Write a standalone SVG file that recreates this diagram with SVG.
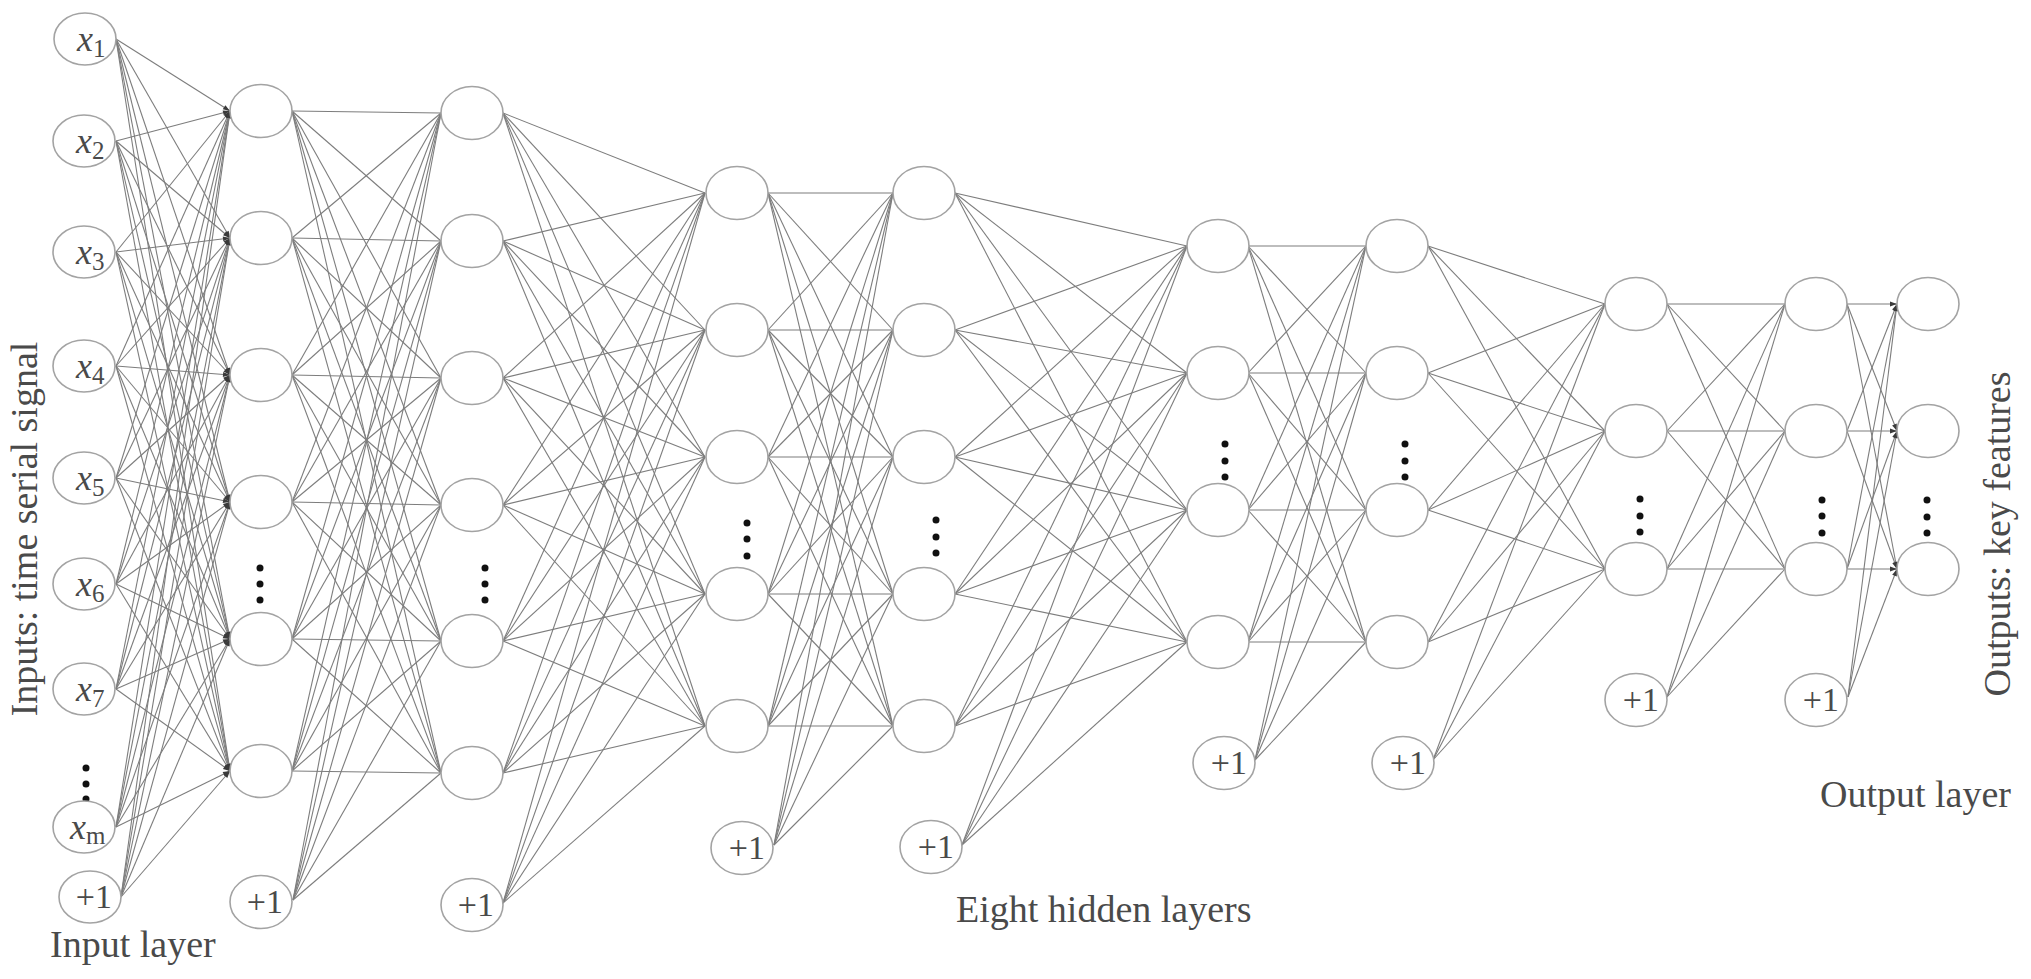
<svg xmlns="http://www.w3.org/2000/svg" width="2031" height="979" viewBox="0 0 2031 979">
<style>
.n{fill:#fff;stroke:#a3a3a3;stroke-width:1.6}
.e line{stroke:#7d7d7d;stroke-width:1.1}
.a line{marker-end:url(#arr)}
.t{font-family:"Liberation Serif","Times New Roman",serif;fill:#4a4a4a}
.lb{font-size:36px}
.sub{font-size:25px;font-style:normal}
.one{font-size:34px}
.big{font-size:38px}
.d circle{fill:#111}
</style>
<defs>
<marker id="arr" viewBox="0 0 10 10" refX="10" refY="5" markerWidth="9" markerHeight="7" markerUnits="userSpaceOnUse" orient="auto"><path d="M0,1.5 L10,5 L0,8.5 z" fill="#3a3a3a"/></marker>
</defs>
<rect width="2031" height="979" fill="#fff"/>
<g id="connectors">
<g id="c-in-h1" class="e a">
<line x1="116" y1="39" x2="230" y2="111"/><line x1="116" y1="39" x2="230" y2="238"/><line x1="116" y1="39" x2="230" y2="375"/><line x1="116" y1="39" x2="230" y2="502"/><line x1="116" y1="39" x2="230" y2="639"/><line x1="116" y1="39" x2="230" y2="771"/>
<line x1="116" y1="141" x2="230" y2="111"/><line x1="116" y1="141" x2="230" y2="238"/><line x1="116" y1="141" x2="230" y2="375"/><line x1="116" y1="141" x2="230" y2="502"/><line x1="116" y1="141" x2="230" y2="639"/><line x1="116" y1="141" x2="230" y2="771"/>
<line x1="116" y1="252" x2="230" y2="111"/><line x1="116" y1="252" x2="230" y2="238"/><line x1="116" y1="252" x2="230" y2="375"/><line x1="116" y1="252" x2="230" y2="502"/><line x1="116" y1="252" x2="230" y2="639"/><line x1="116" y1="252" x2="230" y2="771"/>
<line x1="116" y1="366" x2="230" y2="111"/><line x1="116" y1="366" x2="230" y2="238"/><line x1="116" y1="366" x2="230" y2="375"/><line x1="116" y1="366" x2="230" y2="502"/><line x1="116" y1="366" x2="230" y2="639"/><line x1="116" y1="366" x2="230" y2="771"/>
<line x1="116" y1="478" x2="230" y2="111"/><line x1="116" y1="478" x2="230" y2="238"/><line x1="116" y1="478" x2="230" y2="375"/><line x1="116" y1="478" x2="230" y2="502"/><line x1="116" y1="478" x2="230" y2="639"/><line x1="116" y1="478" x2="230" y2="771"/>
<line x1="116" y1="584" x2="230" y2="111"/><line x1="116" y1="584" x2="230" y2="238"/><line x1="116" y1="584" x2="230" y2="375"/><line x1="116" y1="584" x2="230" y2="502"/><line x1="116" y1="584" x2="230" y2="639"/><line x1="116" y1="584" x2="230" y2="771"/>
<line x1="116" y1="689" x2="230" y2="111"/><line x1="116" y1="689" x2="230" y2="238"/><line x1="116" y1="689" x2="230" y2="375"/><line x1="116" y1="689" x2="230" y2="502"/><line x1="116" y1="689" x2="230" y2="639"/><line x1="116" y1="689" x2="230" y2="771"/>
<line x1="116" y1="827" x2="230" y2="111"/><line x1="116" y1="827" x2="230" y2="238"/><line x1="116" y1="827" x2="230" y2="375"/><line x1="116" y1="827" x2="230" y2="502"/><line x1="116" y1="827" x2="230" y2="639"/><line x1="116" y1="827" x2="230" y2="771"/>
<line x1="121" y1="897" x2="230" y2="111"/><line x1="121" y1="897" x2="230" y2="238"/><line x1="121" y1="897" x2="230" y2="375"/><line x1="121" y1="897" x2="230" y2="502"/><line x1="121" y1="897" x2="230" y2="639"/><line x1="121" y1="897" x2="230" y2="771"/>
</g>
<g id="c-h1-h2" class="e">
<line x1="292" y1="111" x2="441" y2="113"/><line x1="292" y1="111" x2="441" y2="241"/><line x1="292" y1="111" x2="441" y2="378"/><line x1="292" y1="111" x2="441" y2="505"/><line x1="292" y1="111" x2="441" y2="641"/><line x1="292" y1="111" x2="441" y2="773"/>
<line x1="292" y1="238" x2="441" y2="113"/><line x1="292" y1="238" x2="441" y2="241"/><line x1="292" y1="238" x2="441" y2="378"/><line x1="292" y1="238" x2="441" y2="505"/><line x1="292" y1="238" x2="441" y2="641"/><line x1="292" y1="238" x2="441" y2="773"/>
<line x1="292" y1="375" x2="441" y2="113"/><line x1="292" y1="375" x2="441" y2="241"/><line x1="292" y1="375" x2="441" y2="378"/><line x1="292" y1="375" x2="441" y2="505"/><line x1="292" y1="375" x2="441" y2="641"/><line x1="292" y1="375" x2="441" y2="773"/>
<line x1="292" y1="502" x2="441" y2="113"/><line x1="292" y1="502" x2="441" y2="241"/><line x1="292" y1="502" x2="441" y2="378"/><line x1="292" y1="502" x2="441" y2="505"/><line x1="292" y1="502" x2="441" y2="641"/><line x1="292" y1="502" x2="441" y2="773"/>
<line x1="292" y1="639" x2="441" y2="113"/><line x1="292" y1="639" x2="441" y2="241"/><line x1="292" y1="639" x2="441" y2="378"/><line x1="292" y1="639" x2="441" y2="505"/><line x1="292" y1="639" x2="441" y2="641"/><line x1="292" y1="639" x2="441" y2="773"/>
<line x1="292" y1="771" x2="441" y2="113"/><line x1="292" y1="771" x2="441" y2="241"/><line x1="292" y1="771" x2="441" y2="378"/><line x1="292" y1="771" x2="441" y2="505"/><line x1="292" y1="771" x2="441" y2="641"/><line x1="292" y1="771" x2="441" y2="773"/>
<line x1="293" y1="900" x2="441" y2="113"/><line x1="293" y1="900" x2="441" y2="241"/><line x1="293" y1="900" x2="441" y2="378"/><line x1="293" y1="900" x2="441" y2="505"/><line x1="293" y1="900" x2="441" y2="641"/><line x1="293" y1="900" x2="441" y2="773"/>
</g>
<g id="c-h2-h3" class="e">
<line x1="503" y1="113" x2="705" y2="193"/><line x1="503" y1="113" x2="705" y2="330"/><line x1="503" y1="113" x2="705" y2="457"/><line x1="503" y1="113" x2="705" y2="594"/><line x1="503" y1="113" x2="705" y2="726"/>
<line x1="503" y1="241" x2="705" y2="193"/><line x1="503" y1="241" x2="705" y2="330"/><line x1="503" y1="241" x2="705" y2="457"/><line x1="503" y1="241" x2="705" y2="594"/><line x1="503" y1="241" x2="705" y2="726"/>
<line x1="503" y1="378" x2="705" y2="193"/><line x1="503" y1="378" x2="705" y2="330"/><line x1="503" y1="378" x2="705" y2="457"/><line x1="503" y1="378" x2="705" y2="594"/><line x1="503" y1="378" x2="705" y2="726"/>
<line x1="503" y1="505" x2="705" y2="193"/><line x1="503" y1="505" x2="705" y2="330"/><line x1="503" y1="505" x2="705" y2="457"/><line x1="503" y1="505" x2="705" y2="594"/><line x1="503" y1="505" x2="705" y2="726"/>
<line x1="503" y1="641" x2="705" y2="193"/><line x1="503" y1="641" x2="705" y2="330"/><line x1="503" y1="641" x2="705" y2="457"/><line x1="503" y1="641" x2="705" y2="594"/><line x1="503" y1="641" x2="705" y2="726"/>
<line x1="503" y1="773" x2="705" y2="193"/><line x1="503" y1="773" x2="705" y2="330"/><line x1="503" y1="773" x2="705" y2="457"/><line x1="503" y1="773" x2="705" y2="594"/><line x1="503" y1="773" x2="705" y2="726"/>
<line x1="503" y1="903" x2="705" y2="193"/><line x1="503" y1="903" x2="705" y2="330"/><line x1="503" y1="903" x2="705" y2="457"/><line x1="503" y1="903" x2="705" y2="594"/><line x1="503" y1="903" x2="705" y2="726"/>
</g>
<g id="c-h3-h4" class="e">
<line x1="768" y1="193" x2="893" y2="193"/><line x1="768" y1="193" x2="893" y2="330"/><line x1="768" y1="193" x2="893" y2="457"/><line x1="768" y1="193" x2="893" y2="594"/><line x1="768" y1="193" x2="893" y2="726"/>
<line x1="768" y1="330" x2="893" y2="193"/><line x1="768" y1="330" x2="893" y2="330"/><line x1="768" y1="330" x2="893" y2="457"/><line x1="768" y1="330" x2="893" y2="594"/><line x1="768" y1="330" x2="893" y2="726"/>
<line x1="768" y1="457" x2="893" y2="193"/><line x1="768" y1="457" x2="893" y2="330"/><line x1="768" y1="457" x2="893" y2="457"/><line x1="768" y1="457" x2="893" y2="594"/><line x1="768" y1="457" x2="893" y2="726"/>
<line x1="768" y1="594" x2="893" y2="193"/><line x1="768" y1="594" x2="893" y2="330"/><line x1="768" y1="594" x2="893" y2="457"/><line x1="768" y1="594" x2="893" y2="594"/><line x1="768" y1="594" x2="893" y2="726"/>
<line x1="768" y1="726" x2="893" y2="193"/><line x1="768" y1="726" x2="893" y2="330"/><line x1="768" y1="726" x2="893" y2="457"/><line x1="768" y1="726" x2="893" y2="594"/><line x1="768" y1="726" x2="893" y2="726"/>
<line x1="774" y1="845" x2="893" y2="193"/><line x1="774" y1="845" x2="893" y2="330"/><line x1="774" y1="845" x2="893" y2="457"/><line x1="774" y1="845" x2="893" y2="594"/><line x1="774" y1="845" x2="893" y2="726"/>
</g>
<g id="c-h4-h5" class="e">
<line x1="955" y1="193" x2="1187" y2="246"/><line x1="955" y1="193" x2="1187" y2="373"/><line x1="955" y1="193" x2="1187" y2="510"/><line x1="955" y1="193" x2="1187" y2="642"/>
<line x1="955" y1="330" x2="1187" y2="246"/><line x1="955" y1="330" x2="1187" y2="373"/><line x1="955" y1="330" x2="1187" y2="510"/><line x1="955" y1="330" x2="1187" y2="642"/>
<line x1="955" y1="457" x2="1187" y2="246"/><line x1="955" y1="457" x2="1187" y2="373"/><line x1="955" y1="457" x2="1187" y2="510"/><line x1="955" y1="457" x2="1187" y2="642"/>
<line x1="955" y1="594" x2="1187" y2="246"/><line x1="955" y1="594" x2="1187" y2="373"/><line x1="955" y1="594" x2="1187" y2="510"/><line x1="955" y1="594" x2="1187" y2="642"/>
<line x1="955" y1="726" x2="1187" y2="246"/><line x1="955" y1="726" x2="1187" y2="373"/><line x1="955" y1="726" x2="1187" y2="510"/><line x1="955" y1="726" x2="1187" y2="642"/>
<line x1="962" y1="845" x2="1187" y2="246"/><line x1="962" y1="845" x2="1187" y2="373"/><line x1="962" y1="845" x2="1187" y2="510"/><line x1="962" y1="845" x2="1187" y2="642"/>
</g>
<g id="c-h5-h6" class="e">
<line x1="1248" y1="246" x2="1366" y2="246"/><line x1="1248" y1="246" x2="1366" y2="373"/><line x1="1248" y1="246" x2="1366" y2="510"/><line x1="1248" y1="246" x2="1366" y2="642"/>
<line x1="1248" y1="373" x2="1366" y2="246"/><line x1="1248" y1="373" x2="1366" y2="373"/><line x1="1248" y1="373" x2="1366" y2="510"/><line x1="1248" y1="373" x2="1366" y2="642"/>
<line x1="1248" y1="510" x2="1366" y2="246"/><line x1="1248" y1="510" x2="1366" y2="373"/><line x1="1248" y1="510" x2="1366" y2="510"/><line x1="1248" y1="510" x2="1366" y2="642"/>
<line x1="1248" y1="642" x2="1366" y2="246"/><line x1="1248" y1="642" x2="1366" y2="373"/><line x1="1248" y1="642" x2="1366" y2="510"/><line x1="1248" y1="642" x2="1366" y2="642"/>
<line x1="1255" y1="760" x2="1366" y2="246"/><line x1="1255" y1="760" x2="1366" y2="373"/><line x1="1255" y1="760" x2="1366" y2="510"/><line x1="1255" y1="760" x2="1366" y2="642"/>
</g>
<g id="c-h6-h7" class="e">
<line x1="1428" y1="246" x2="1605" y2="304"/><line x1="1428" y1="246" x2="1605" y2="431"/><line x1="1428" y1="246" x2="1605" y2="569"/>
<line x1="1428" y1="373" x2="1605" y2="304"/><line x1="1428" y1="373" x2="1605" y2="431"/><line x1="1428" y1="373" x2="1605" y2="569"/>
<line x1="1428" y1="510" x2="1605" y2="304"/><line x1="1428" y1="510" x2="1605" y2="431"/><line x1="1428" y1="510" x2="1605" y2="569"/>
<line x1="1428" y1="642" x2="1605" y2="304"/><line x1="1428" y1="642" x2="1605" y2="431"/><line x1="1428" y1="642" x2="1605" y2="569"/>
<line x1="1433" y1="760" x2="1605" y2="304"/><line x1="1433" y1="760" x2="1605" y2="431"/><line x1="1433" y1="760" x2="1605" y2="569"/>
</g>
<g id="c-h7-h8" class="e">
<line x1="1667" y1="304" x2="1785" y2="304"/><line x1="1667" y1="304" x2="1785" y2="431"/><line x1="1667" y1="304" x2="1785" y2="569"/>
<line x1="1667" y1="431" x2="1785" y2="304"/><line x1="1667" y1="431" x2="1785" y2="431"/><line x1="1667" y1="431" x2="1785" y2="569"/>
<line x1="1667" y1="569" x2="1785" y2="304"/><line x1="1667" y1="569" x2="1785" y2="431"/><line x1="1667" y1="569" x2="1785" y2="569"/>
<line x1="1667" y1="697" x2="1785" y2="304"/><line x1="1667" y1="697" x2="1785" y2="431"/><line x1="1667" y1="697" x2="1785" y2="569"/>
</g>
<g id="c-h8-out" class="e a">
<line x1="1847" y1="304" x2="1897" y2="304"/><line x1="1847" y1="304" x2="1897" y2="431"/><line x1="1847" y1="304" x2="1897" y2="569"/>
<line x1="1847" y1="431" x2="1897" y2="304"/><line x1="1847" y1="431" x2="1897" y2="431"/><line x1="1847" y1="431" x2="1897" y2="569"/>
<line x1="1847" y1="569" x2="1897" y2="304"/><line x1="1847" y1="569" x2="1897" y2="431"/><line x1="1847" y1="569" x2="1897" y2="569"/>
<line x1="1848" y1="697" x2="1897" y2="304"/><line x1="1848" y1="697" x2="1897" y2="431"/><line x1="1848" y1="697" x2="1897" y2="569"/>
</g>
</g>
<g id="ellipsis-dots" class="d">
<circle cx="86" cy="768" r="3.5"/><circle cx="86" cy="784" r="3.5"/><circle cx="86" cy="799" r="3.5"/>
<circle cx="260" cy="568" r="3.5"/><circle cx="260" cy="584" r="3.5"/><circle cx="260" cy="600" r="3.5"/>
<circle cx="485" cy="568" r="3.5"/><circle cx="485" cy="584" r="3.5"/><circle cx="485" cy="600" r="3.5"/>
<circle cx="747" cy="523" r="3.5"/><circle cx="747" cy="539" r="3.5"/><circle cx="747" cy="556" r="3.5"/>
<circle cx="936" cy="520" r="3.5"/><circle cx="936" cy="537" r="3.5"/><circle cx="936" cy="553" r="3.5"/>
<circle cx="1225" cy="444" r="3.5"/><circle cx="1225" cy="461" r="3.5"/><circle cx="1225" cy="477" r="3.5"/>
<circle cx="1405" cy="444" r="3.5"/><circle cx="1405" cy="461" r="3.5"/><circle cx="1405" cy="477" r="3.5"/>
<circle cx="1640" cy="499" r="3.5"/><circle cx="1640" cy="516" r="3.5"/><circle cx="1640" cy="532" r="3.5"/>
<circle cx="1822" cy="500" r="3.5"/><circle cx="1822" cy="516" r="3.5"/><circle cx="1822" cy="533" r="3.5"/>
<circle cx="1927" cy="500" r="3.5"/><circle cx="1927" cy="517" r="3.5"/><circle cx="1927" cy="533" r="3.5"/>
</g>
<g id="input-layer">
<g id="in-x1"><ellipse class="n" cx="85" cy="39" rx="31" ry="26"/><text class="t lb" x="77" y="51" font-style="italic">x<tspan class="sub" dy="6">1</tspan></text></g>
<g id="in-x2"><ellipse class="n" cx="84" cy="141" rx="31" ry="26"/><text class="t lb" x="76" y="153" font-style="italic">x<tspan class="sub" dy="6">2</tspan></text></g>
<g id="in-x3"><ellipse class="n" cx="84" cy="252" rx="31" ry="26"/><text class="t lb" x="76" y="264" font-style="italic">x<tspan class="sub" dy="6">3</tspan></text></g>
<g id="in-x4"><ellipse class="n" cx="84" cy="366" rx="31" ry="26"/><text class="t lb" x="76" y="378" font-style="italic">x<tspan class="sub" dy="6">4</tspan></text></g>
<g id="in-x5"><ellipse class="n" cx="84" cy="478" rx="31" ry="26"/><text class="t lb" x="76" y="490" font-style="italic">x<tspan class="sub" dy="6">5</tspan></text></g>
<g id="in-x6"><ellipse class="n" cx="84" cy="584" rx="31" ry="26"/><text class="t lb" x="76" y="596" font-style="italic">x<tspan class="sub" dy="6">6</tspan></text></g>
<g id="in-x7"><ellipse class="n" cx="84" cy="689" rx="31" ry="26"/><text class="t lb" x="76" y="701" font-style="italic">x<tspan class="sub" dy="6">7</tspan></text></g>
<g id="in-xm"><ellipse class="n" cx="84" cy="827" rx="31" ry="26"/><text class="t lb" x="70" y="839" font-style="italic">x<tspan class="sub" dy="5">m</tspan></text></g>
<g id="in-bias"><ellipse class="n" cx="90" cy="897" rx="31" ry="26"/><text class="t one" x="112" y="908" text-anchor="end">+1</text></g>
</g>
<g id="hidden-1">
<g id="h1-n1"><ellipse class="n" cx="261" cy="111" rx="31" ry="26.5"/></g>
<g id="h1-n2"><ellipse class="n" cx="261" cy="238" rx="31" ry="26.5"/></g>
<g id="h1-n3"><ellipse class="n" cx="261" cy="375" rx="31" ry="26.5"/></g>
<g id="h1-n4"><ellipse class="n" cx="261" cy="502" rx="31" ry="26.5"/></g>
<g id="h1-n5"><ellipse class="n" cx="261" cy="639" rx="31" ry="26.5"/></g>
<g id="h1-n6"><ellipse class="n" cx="261" cy="771" rx="31" ry="26.5"/></g>
<g id="h1-bias"><ellipse class="n" cx="261" cy="902" rx="31" ry="26.5"/><text class="t one" x="283" y="913" text-anchor="end">+1</text></g>
</g>
<g id="hidden-2">
<g id="h2-n1"><ellipse class="n" cx="472" cy="113" rx="31" ry="26.5"/></g>
<g id="h2-n2"><ellipse class="n" cx="472" cy="241" rx="31" ry="26.5"/></g>
<g id="h2-n3"><ellipse class="n" cx="472" cy="378" rx="31" ry="26.5"/></g>
<g id="h2-n4"><ellipse class="n" cx="472" cy="505" rx="31" ry="26.5"/></g>
<g id="h2-n5"><ellipse class="n" cx="472" cy="641" rx="31" ry="26.5"/></g>
<g id="h2-n6"><ellipse class="n" cx="472" cy="773" rx="31" ry="26.5"/></g>
<g id="h2-bias"><ellipse class="n" cx="472" cy="905" rx="31" ry="26.5"/><text class="t one" x="494" y="916" text-anchor="end">+1</text></g>
</g>
<g id="hidden-3">
<g id="h3-n1"><ellipse class="n" cx="737" cy="193" rx="31" ry="26.5"/></g>
<g id="h3-n2"><ellipse class="n" cx="737" cy="330" rx="31" ry="26.5"/></g>
<g id="h3-n3"><ellipse class="n" cx="737" cy="457" rx="31" ry="26.5"/></g>
<g id="h3-n4"><ellipse class="n" cx="737" cy="594" rx="31" ry="26.5"/></g>
<g id="h3-n5"><ellipse class="n" cx="737" cy="726" rx="31" ry="26.5"/></g>
<g id="h3-bias"><ellipse class="n" cx="742" cy="848" rx="31" ry="26.5"/><text class="t one" x="765" y="859" text-anchor="end">+1</text></g>
</g>
<g id="hidden-4">
<g id="h4-n1"><ellipse class="n" cx="924" cy="193" rx="31" ry="26.5"/></g>
<g id="h4-n2"><ellipse class="n" cx="924" cy="330" rx="31" ry="26.5"/></g>
<g id="h4-n3"><ellipse class="n" cx="924" cy="457" rx="31" ry="26.5"/></g>
<g id="h4-n4"><ellipse class="n" cx="924" cy="594" rx="31" ry="26.5"/></g>
<g id="h4-n5"><ellipse class="n" cx="924" cy="726" rx="31" ry="26.5"/></g>
<g id="h4-bias"><ellipse class="n" cx="931" cy="847" rx="31" ry="26.5"/><text class="t one" x="954" y="858" text-anchor="end">+1</text></g>
</g>
<g id="hidden-5">
<g id="h5-n1"><ellipse class="n" cx="1218" cy="246" rx="31" ry="26.5"/></g>
<g id="h5-n2"><ellipse class="n" cx="1218" cy="373" rx="31" ry="26.5"/></g>
<g id="h5-n3"><ellipse class="n" cx="1218" cy="510" rx="31" ry="26.5"/></g>
<g id="h5-n4"><ellipse class="n" cx="1218" cy="642" rx="31" ry="26.5"/></g>
<g id="h5-bias"><ellipse class="n" cx="1224" cy="763" rx="31" ry="26.5"/><text class="t one" x="1247" y="774" text-anchor="end">+1</text></g>
</g>
<g id="hidden-6">
<g id="h6-n1"><ellipse class="n" cx="1397" cy="246" rx="31" ry="26.5"/></g>
<g id="h6-n2"><ellipse class="n" cx="1397" cy="373" rx="31" ry="26.5"/></g>
<g id="h6-n3"><ellipse class="n" cx="1397" cy="510" rx="31" ry="26.5"/></g>
<g id="h6-n4"><ellipse class="n" cx="1397" cy="642" rx="31" ry="26.5"/></g>
<g id="h6-bias"><ellipse class="n" cx="1403" cy="763" rx="31" ry="26.5"/><text class="t one" x="1426" y="774" text-anchor="end">+1</text></g>
</g>
<g id="hidden-7">
<g id="h7-n1"><ellipse class="n" cx="1636" cy="304" rx="31" ry="26.5"/></g>
<g id="h7-n2"><ellipse class="n" cx="1636" cy="431" rx="31" ry="26.5"/></g>
<g id="h7-n3"><ellipse class="n" cx="1636" cy="569" rx="31" ry="26.5"/></g>
<g id="h7-bias"><ellipse class="n" cx="1636" cy="700" rx="31" ry="26.5"/><text class="t one" x="1659" y="711" text-anchor="end">+1</text></g>
</g>
<g id="hidden-8">
<g id="h8-n1"><ellipse class="n" cx="1816" cy="304" rx="31" ry="26.5"/></g>
<g id="h8-n2"><ellipse class="n" cx="1816" cy="431" rx="31" ry="26.5"/></g>
<g id="h8-n3"><ellipse class="n" cx="1816" cy="569" rx="31" ry="26.5"/></g>
<g id="h8-bias"><ellipse class="n" cx="1816" cy="700" rx="31" ry="26.5"/><text class="t one" x="1839" y="711" text-anchor="end">+1</text></g>
</g>
<g id="output-layer">
<g id="out-n1"><ellipse class="n" cx="1928" cy="304" rx="31" ry="26.5"/></g>
<g id="out-n2"><ellipse class="n" cx="1928" cy="431" rx="31" ry="26.5"/></g>
<g id="out-n3"><ellipse class="n" cx="1928" cy="569" rx="31" ry="26.5"/></g>
</g>
<g id="labels">
<text class="t big" x="50" y="957">Input layer</text>
<text class="t big" x="956" y="922">Eight hidden layers</text>
<text class="t big" x="1820" y="807">Output layer</text>
<text class="t big" transform="translate(37,529) rotate(-90)" text-anchor="middle">Inputs: time serial signal</text>
<text class="t big" transform="translate(2010,534) rotate(-90)" text-anchor="middle">Outputs: key features</text>
</g>
</svg>
